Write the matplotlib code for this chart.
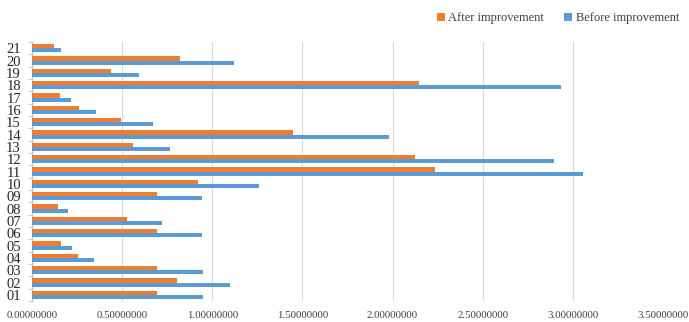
import matplotlib
matplotlib.use("Agg")
import matplotlib.pyplot as plt
import numpy as np

categories = ["01", "02", "03", "04", "05", "06", "07", "08", "09", "10", "11",
              "12", "13", "14", "15", "16", "17", "18", "19", "20", "21"]
before = [0.948, 1.097, 0.948, 0.345, 0.220, 0.944, 0.722, 0.200, 0.944, 1.258, 3.054,
          2.897, 0.767, 1.979, 0.671, 0.356, 0.218, 2.932, 0.595, 1.121, 0.162]
after = [0.696, 0.804, 0.696, 0.257, 0.159, 0.693, 0.528, 0.144, 0.693, 0.918, 2.237,
         2.127, 0.560, 1.450, 0.493, 0.260, 0.157, 2.145, 0.438, 0.822, 0.120]
xticks = [0.0, 0.5, 1.0, 1.5, 2.0, 2.5, 3.0, 3.5]

plt.rcParams['font.family'] = ['Liberation Serif', 'DejaVu Serif']

fig = plt.figure(figsize=(6.89, 3.22), dpi=100)
ax = fig.add_axes([32/689, 1 - 301/322, (663 - 32)/689, (301 - 42)/322])

y = np.arange(len(categories))
h = 0.35
ax.barh(y - h/2, before, height=h, color='#5B9BD5', label='Before improvement', zorder=3)
ax.barh(y + h/2, after, height=h, color='#ED7D31', label='After improvement', zorder=3)

ax.set_xlim(0, 3.5)
ax.set_ylim(-0.5, len(categories) - 0.5)
ax.set_xticks(xticks)
ax.set_xticklabels([f"{v:.8f}" for v in xticks], fontsize=7.8, color='#404040')
ax.set_yticks(y)
ax.set_yticklabels(categories, fontsize=10.5, color='#262626')
ax.set_yticks(np.arange(-0.5, len(categories), 1), minor=True)
ax.tick_params(axis='y', which='major', length=0, pad=8)
ax.tick_params(axis='y', which='minor', length=3, color='#BFBFBF', direction='out')
ax.tick_params(axis='x', length=0, pad=7)
ax.grid(axis='x', color='#D9D9D9', linewidth=0.8, zorder=0)
for s in ['top', 'right', 'bottom']:
    ax.spines[s].set_visible(False)
ax.spines['left'].set_color('#BFBFBF')
ax.spines['left'].set_linewidth(0.8)

handles, labels = ax.get_legend_handles_labels()
leg = fig.legend(handles[::-1], labels[::-1], loc='center right', bbox_to_anchor=(684/689, 1 - 18/322),
                 ncol=2, frameon=False, fontsize=9, handlelength=0.6, handleheight=0.6,
                 handletextpad=0.3, columnspacing=1.6, borderaxespad=0)
for t in leg.get_texts():
    t.set_color('#404040')

fig.savefig('out.png', dpi=100)
